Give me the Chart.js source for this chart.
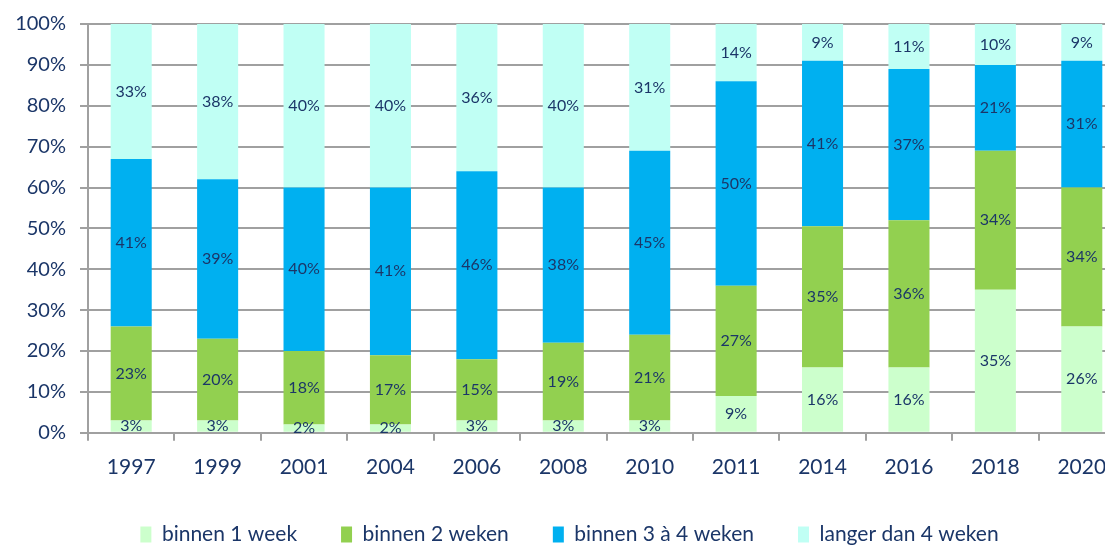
<!DOCTYPE html>
<html lang="nl">
<head>
<meta charset="UTF-8">
<script src="https://cdn.jsdelivr.net/npm/chart.js"></script>
<style>
    html, body { margin: 0; padding: 0; background: #fff; overflow: hidden; }
    #wrap { position: absolute; left: 0; top: 0; width: 1125px; height: 545px; }
</style>
</head>
<body>
<div id="wrap"><canvas id="grafiek" width="1125" height="545"></canvas></div>
<script>
    var jaren = ['1997', '1999', '2001', '2004', '2006', '2008', '2010', '2011', '2014', '2016', '2018', '2020']
    var binnen1week = [3, 3, 2, 2, 3, 3, 3, 9, 16, 16, 35, 26]
    var binnen2weken = [23, 20, 18, 17, 15, 19, 21, 27, 34.5, 36, 34, 34]
    var binnen3a4weken = [41, 39, 40, 41, 46, 38, 45, 50, 40.5, 37, 21, 31]
    var langerDan4weken = [33, 38, 40, 40, 36, 40, 31, 14, 9, 11, 10, 9]
    var yTicks = [0, 10, 20, 30, 40, 50, 60, 70, 80, 90, 100]

    var tekstKleur = '#1b3668'
    var lettertype = 'Lato, "Open Sans", sans-serif'

    // labels midden in elk segment
    var labelPlugin = {
        id: 'segmentLabels',
        afterDatasetsDraw: function (chart) {
            var ctx = chart.ctx
            ctx.save()
            ctx.fillStyle = tekstKleur
            ctx.font = '16px ' + lettertype
            ctx.textAlign = 'center'
            ctx.textBaseline = 'middle'
            chart.data.datasets.forEach(function (ds, i) {
                var meta = chart.getDatasetMeta(i)
                meta.data.forEach(function (bar, j) {
                    var y = (bar.y + bar.base) / 2
                    ctx.fillText(Math.round(ds.data[j]) + '%', bar.x, y)
                })
            })
            ctx.restore()
        }
    }

    // legenda: minder hoogte innemen en daarna iets verschuiven
    var legendaPlek = {
        id: 'legendaPlek',
        beforeInit: function (chart) {
            var origFit = chart.legend.fit
            chart.legend.fit = function () {
                origFit.call(this)
                this.height = 51
            }
        },
        afterLayout: function (chart) {
            var lg = chart.legend
            lg.top -= 14
            lg.bottom = chart.height
            lg.left += 7
            lg.right += 7
        }
    }

    new Chart(document.getElementById('grafiek'), {
        type: 'bar',
        data: {
            labels: jaren,
            datasets: [
                { label: 'binnen 1 week', data: binnen1week, backgroundColor: '#ccffcc' },
                { label: 'binnen 2 weken', data: binnen2weken, backgroundColor: '#92d050' },
                { label: 'binnen 3 à 4 weken', data: binnen3a4weken, backgroundColor: '#00b0f0' },
                { label: 'langer dan 4 weken', data: langerDan4weken, backgroundColor: '#c0fff4' }
            ]
        },
        options: {
            responsive: false,
            animation: false,
            layout: { padding: { top: 1, bottom: 0, left: 0, right: 0 } },
            datasets: {
                bar: { categoryPercentage: 1, barPercentage: 0.475 }
            },
            plugins: {
                legend: {
                    position: 'bottom',
                    labels: {
                        color: tekstKleur,
                        font: { family: lettertype, size: 21 },
                        boxWidth: 11,
                        boxHeight: 16,
                        padding: 44
                    }
                },
                tooltip: { enabled: false }
            },
            scales: {
                x: {
                    stacked: true,
                    grid: {
                        drawOnChartArea: false,
                        drawTicks: true,
                        tickLength: 8,
                        color: '#a0a0a0',
                        lineWidth: 2
                    },
                    border: { color: '#a0a0a0', width: 2 },
                    ticks: {
                        color: tekstKleur,
                        font: { family: lettertype, size: 21 },
                        padding: 14
                    }
                },
                y: {
                    stacked: true,
                    min: 0,
                    max: 100,
                    afterBuildTicks: function (axis) {
                        axis.ticks = yTicks.map(function (v) { return { value: v } })
                    },
                    afterFit: function (axis) { axis.width = 88 },
                    grid: {
                        color: '#a0a0a0',
                        lineWidth: 2,
                        tickLength: 8
                    },
                    border: { color: '#a0a0a0', width: 2 },
                    ticks: {
                        color: tekstKleur,
                        font: { family: lettertype, size: 20, lineHeight: 1 },
                        padding: 14,
                        callback: function (v) { return v + '%' }
                    }
                }
            }
        },
        plugins: [labelPlugin, legendaPlek]
    })
</script>
</body>
</html>
